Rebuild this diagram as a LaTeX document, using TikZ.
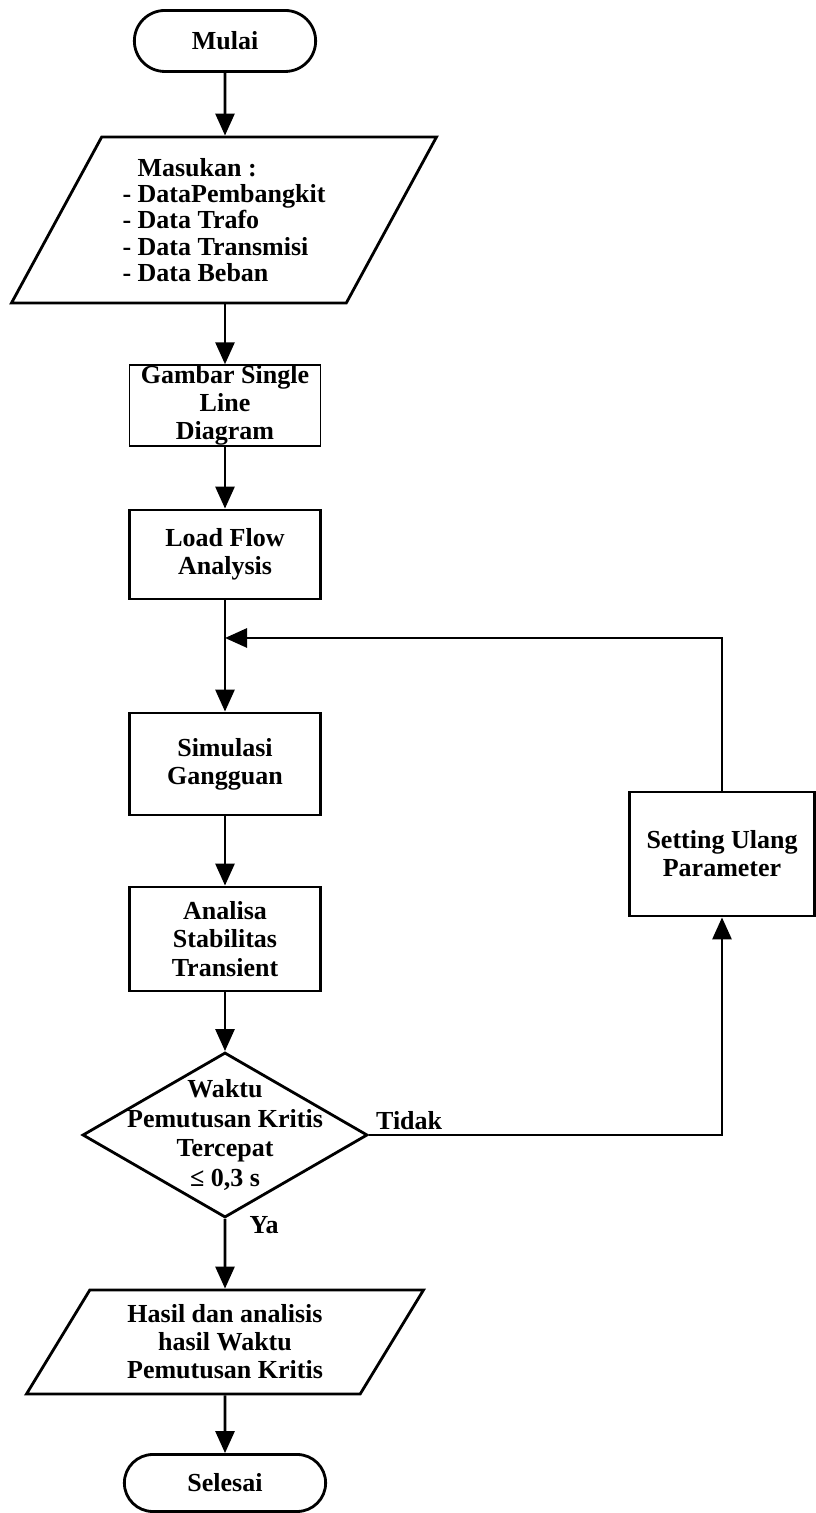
\documentclass[tikz,border=0pt]{standalone}
\usepackage{fontspec}
\setmainfont{Liberation Serif}
\usetikzlibrary{shapes,arrows.meta,positioning,calc}

\begin{document}
\begin{tikzpicture}[
    every node/.style={font=\bfseries\fontsize{14.8pt}{16pt}\selectfont},
    terminal/.style={draw, rounded rectangle, line width=1.6pt, minimum width=3.86cm, minimum height=1.22cm},
    process/.style={draw, rectangle, line width=1.6pt, align=center, minimum width=3.82cm, minimum height=1.8cm, inner sep=1pt},
    io/.style={draw, trapezium, trapezium stretches body, line width=1.6pt, inner sep=2pt},
    decision/.style={draw, diamond, line width=1.6pt, minimum width=5.7cm, minimum height=3.3cm, inner sep=0pt},
    arrow/.style={-{Triangle[length=0.44cm,width=0.38cm]}, line width=1.6pt}
]
\useasboundingbox (0,0) rectangle (16.3,30.26);

\node[terminal] (mulai) at (4.5,29.44) {Mulai};
\node[io, trapezium left angle=55.4, trapezium right angle=124.6, minimum width=8.5cm, minimum height=3.32cm, align=left,
      font=\bfseries\fontsize{14.8pt}{15pt}\selectfont] (masukan) at (4.48,25.86)
      {\hspace*{0.3cm}Masukan :\\- DataPembangkit\\- Data Trafo\\- Data Transmisi\\- Data Beban};
\node[process, line width=0.8pt, minimum height=1.62cm, inner sep=0pt] (gambar) at (4.5,22.15) {Gambar Single\\Line\\Diagram};
\node[process, minimum height=1.78cm] (load) at (4.5,19.17) {Load Flow\\Analysis};
\coordinate (balik) at (4.5,17.5);
\node[process, minimum height=2.04cm] (simulasi) at (4.5,14.98) {Simulasi\\Gangguan};
\node[process, minimum height=2.08cm] (analisa) at (4.5,11.48) {Analisa\\Stabilitas\\Transient};
\node[decision] (cek) at (4.5,7.56) {};
\node[align=center, font=\bfseries\fontsize{14.8pt}{16.8pt}\selectfont] (cektext) at (cek) {Waktu\\Pemutusan Kritis\\Tercepat\\≤ 0,3 s};
\node[io, trapezium left angle=52.2, trapezium right angle=127.8, minimum width=7.94cm, minimum height=2.08cm, align=center] (hasil) at (4.5,3.42)
      {Hasil dan analisis\\hasil Waktu\\Pemutusan Kritis};
\node[terminal, minimum width=4.26cm, minimum height=1.14cm] (selesai) at (4.5,0.6) {Selesai};
\node[process, minimum width=3.7cm, minimum height=2.48cm] (setting) at (14.44,13.18) {Setting Ulang\\Parameter};
\node[anchor=base west] (ya) at ($(cek.south)+(0.37,-0.29)$) {Ya};
\node[anchor=base west] (tidak) at ($(cek.east)+(0.02,0.1)$) {Tidak};

\draw[arrow] (mulai) -- (masukan.north -| mulai);
\draw[arrow] (masukan.south -| gambar) -- (gambar);
\draw[arrow] (gambar) -- (load);
\draw[arrow] (load) -- (simulasi);
\draw[arrow] (simulasi) -- (analisa);
\draw[arrow] (analisa) -- (cek);
\draw[arrow] (cek) -- (hasil);
\draw[arrow] (hasil) -- (selesai);
\draw[arrow] (cek.east) -| (setting.south);
\draw[arrow] (setting.north) |- (balik);
\end{tikzpicture}
\end{document}
